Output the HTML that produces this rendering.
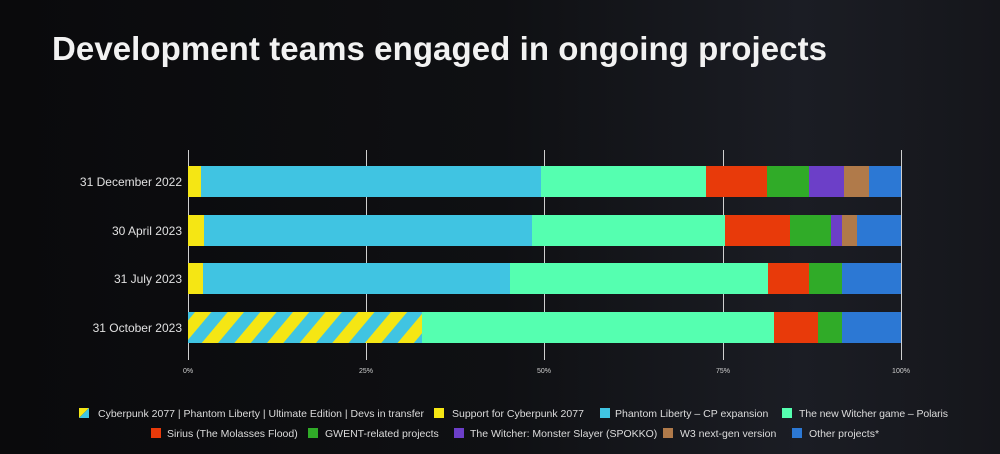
<!DOCTYPE html>
<html><head><meta charset="utf-8"><style>
html,body{margin:0;padding:0;background:#0b0c10;}
svg{display:block;}
text{font-family:"Liberation Sans",sans-serif;}
</style></head><body>
<svg width="1000" height="454" viewBox="0 0 1000 454" xmlns="http://www.w3.org/2000/svg">
<defs>
<linearGradient id="bg" x1="0" y1="0" x2="1" y2="0">
<stop offset="0" stop-color="#0a0a0c"/><stop offset="0.5" stop-color="#0f1013"/><stop offset="0.8" stop-color="#1b1d24"/><stop offset="1" stop-color="#15161b"/>
</linearGradient>
<pattern id="st" patternUnits="userSpaceOnUse" width="25" height="25" patternTransform="rotate(40)">
<rect width="25" height="25" fill="#40c4e2"/><rect width="12.5" height="25" fill="#f5e614"/>
</pattern>
</defs>
<rect width="1000" height="454" fill="url(#bg)"/>
<text x="52" y="60" fill="#f2f2f2" font-size="33" font-weight="bold" textLength="775">Development teams engaged in ongoing projects</text>
<g stroke="#cfcfcf" stroke-width="1">
<line x1="188.5" y1="150" x2="188.5" y2="360"/>
<line x1="366.5" y1="150" x2="366.5" y2="360"/>
<line x1="544.5" y1="150" x2="544.5" y2="360"/>
<line x1="723.5" y1="150" x2="723.5" y2="360"/>
<line x1="901.5" y1="150" x2="901.5" y2="360"/>
</g>
<g font-size="12" fill="#e0e0e0" text-anchor="end">
<text x="182" y="186">31 December 2022</text>
<text x="182" y="235">30 April 2023</text>
<text x="182" y="283">31 July 2023</text>
<text x="182" y="332">31 October 2023</text>
</g>
<g font-size="7" fill="#cfcfcf" text-anchor="middle">
<text x="188" y="373">0%</text><text x="366" y="373">25%</text><text x="544" y="373">50%</text><text x="723" y="373">75%</text><text x="901" y="373">100%</text>
</g>
<g>
<rect x="188" y="166" width="13" height="31" fill="#f5e614"/>
<rect x="201" y="166" width="340" height="31" fill="#40c4e2"/>
<rect x="541" y="166" width="165" height="31" fill="#55ffb0"/>
<rect x="706" y="166" width="61" height="31" fill="#e83a0a"/>
<rect x="767" y="166" width="42" height="31" fill="#30ab28"/>
<rect x="809" y="166" width="35" height="31" fill="#6c3fc8"/>
<rect x="844" y="166" width="25" height="31" fill="#b07a4a"/>
<rect x="869" y="166" width="32" height="31" fill="#2c78d4"/>
</g>
<g>
<rect x="188" y="215" width="16" height="31" fill="#f5e614"/>
<rect x="204" y="215" width="328" height="31" fill="#40c4e2"/>
<rect x="532" y="215" width="193" height="31" fill="#55ffb0"/>
<rect x="725" y="215" width="65" height="31" fill="#e83a0a"/>
<rect x="790" y="215" width="41" height="31" fill="#30ab28"/>
<rect x="831" y="215" width="11" height="31" fill="#6c3fc8"/>
<rect x="842" y="215" width="15" height="31" fill="#b07a4a"/>
<rect x="857" y="215" width="44" height="31" fill="#2c78d4"/>
</g>
<g>
<rect x="188" y="263" width="15" height="31" fill="#f5e614"/>
<rect x="203" y="263" width="307" height="31" fill="#40c4e2"/>
<rect x="510" y="263" width="258" height="31" fill="#55ffb0"/>
<rect x="768" y="263" width="41" height="31" fill="#e83a0a"/>
<rect x="809" y="263" width="33" height="31" fill="#30ab28"/>
<rect x="842" y="263" width="59" height="31" fill="#2c78d4"/>
</g>
<g>
<rect x="188" y="312" width="234" height="31" fill="url(#st)"/>
<rect x="422" y="312" width="352" height="31" fill="#55ffb0"/>
<rect x="774" y="312" width="44" height="31" fill="#e83a0a"/>
<rect x="818" y="312" width="24" height="31" fill="#30ab28"/>
<rect x="842" y="312" width="59" height="31" fill="#2c78d4"/>
</g>
<g font-size="10.5" fill="#dcdcdc">
<polygon points="79,408 89,408 79,418" fill="#f5e614"/><polygon points="89,408 89,418 79,418" fill="#40c4e2"/>
<text x="98" y="417" textLength="326">Cyberpunk 2077 | Phantom Liberty | Ultimate Edition | Devs in transfer</text>
<rect x="434" y="408" width="10" height="10" fill="#f5e614"/><text x="452" y="417">Support for Cyberpunk 2077</text>
<rect x="600" y="408" width="10" height="10" fill="#40c4e2"/><text x="615" y="417">Phantom Liberty – CP expansion</text>
<rect x="782" y="408" width="10" height="10" fill="#55ffb0"/><text x="799" y="417" textLength="149">The new Witcher game – Polaris</text>
<rect x="151" y="428" width="10" height="10" fill="#e83a0a"/><text x="167" y="437">Sirius (The Molasses Flood)</text>
<rect x="308" y="428" width="10" height="10" fill="#30ab28"/><text x="325" y="437">GWENT-related projects</text>
<rect x="454" y="428" width="10" height="10" fill="#6c3fc8"/><text x="470" y="437">The Witcher: Monster Slayer (SPOKKO)</text>
<rect x="663" y="428" width="10" height="10" fill="#b07a4a"/><text x="680" y="437">W3 next-gen version</text>
<rect x="792" y="428" width="10" height="10" fill="#2c78d4"/><text x="809" y="437">Other projects*</text>
</g>
</svg>
</body></html>
